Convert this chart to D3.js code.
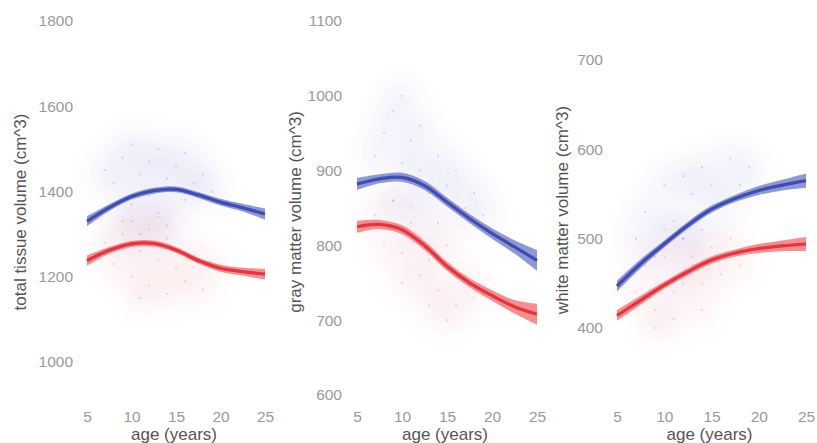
<!DOCTYPE html>
<html>
<head>
<meta charset="utf-8">
<script src="https://cdn.jsdelivr.net/npm/d3@7"></script>
<style>
body { margin:0; background:#fff; }
text { font-family: "Liberation Sans", Arial, sans-serif; }
.tick text { fill:#9a9a9a; font-size:15.5px; }
.title { fill:#555; font-size:17px; }
</style>
</head>
<body>
<svg id="chart"></svg>
<script>
// fitted curves are given at these ages
var ages = [5,7.5,10,12.5,15,17.5,20,22.5,25]
var xTicks = [5,10,15,20,25]

var tissueMale = [1330,1362,1388,1402,1405,1392,1375,1362,1347]
var tissueFemale = [1238,1262,1277,1278,1263,1238,1220,1212,1206]
var tissueSe = [12,8,7,7,7,7,8,9,13]
var tissueTicks = [1000,1200,1400,1600,1800]

var grayMale = [882,889,891,880,858,836,816,798,780]
var grayFemale = [825,828,821,800,772,750,733,718,708]
var graySe = [8,6,6,6,6,6,7,9,14]
var grayTicks = [600,700,800,900,1000,1100]

var whiteMale = [447,472,494,515,533,545,554,560,565]
var whiteFemale = [414,431,448,463,476,484,489,492,494]
var whiteSe = [6,5,4,4,4,4,5,6,8]
var whiteTicks = [400,500,600,700]

// faint subject points [age, volume]
var tissueMalePts = [[7,1450],[8,1420],[9,1480],[10,1370],[10,1510],[11,1440],[12,1390],[12,1470],[13,1350],[13,1500],[14,1430],[15,1460],[16,1380],[16,1490],[17,1420],[18,1440],[19,1400],[9,1330],[14,1320],[11,1300]]
var tissueFemalePts = [[7,1280],[8,1230],[9,1300],[10,1200],[10,1330],[11,1260],[12,1180],[12,1310],[13,1240],[14,1160],[14,1290],[15,1220],[16,1190],[17,1250],[18,1170],[19,1230],[13,1340],[11,1150]]
var grayMalePts = [[7,920],[8,950],[9,980],[10,910],[10,1000],[11,940],[12,900],[12,960],[13,870],[14,920],[15,880],[16,900],[17,850],[18,870],[19,840],[9,860],[11,850],[14,830]]
var grayFemalePts = [[7,840],[8,800],[9,860],[10,790],[11,830],[12,760],[12,810],[13,780],[14,740],[15,800],[16,720],[17,760],[18,730],[10,750],[13,720],[15,700]]
var whiteMalePts = [[7,500],[8,530],[9,480],[10,560],[11,520],[12,570],[12,500],[13,550],[14,580],[14,510],[15,560],[16,540],[17,590],[18,560],[19,580],[10,510],[13,480]]
var whiteFemalePts = [[7,440],[8,470],[9,420],[10,480],[11,440],[12,500],[12,450],[13,470],[14,420],[15,490],[16,460],[17,500],[18,470],[9,400],[11,410],[14,450]]

var colors = {male:{line:"#3d4db5",band:"#7a86cc",pt:"#6a6ad0"}, female:{line:"#e8323c",band:"#f27a7e",pt:"#e06070"}}

var svg = d3.select("#chart").attr("width",817).attr("height",443)

var defs = svg.append("defs")
defs.append("filter").attr("id","haze")
    .attr("x","-50%").attr("y","-50%").attr("width","200%").attr("height","200%")
    .append("feGaussianBlur").attr("stdDeviation",10)

var drawPanel = function(p)
{
    var xScale = d3.scaleLinear().domain([5,25]).range(p.xRange)
    var yScale = d3.scaleLinear().domain(p.yDomain).range(p.yRange)

    var g = svg.append("g")

    // haze + points
    var series = [{pts:p.malePts,c:colors.male},{pts:p.femalePts,c:colors.female}]
    series.forEach(function(s)
    {
        g.append("g").attr("filter","url(#haze)")
            .selectAll("circle").data(s.pts).enter().append("circle")
            .attr("cx",function(d){return xScale(d[0])})
            .attr("cy",function(d){return yScale(d[1])})
            .attr("r",16)
            .attr("fill",s.c.pt)
            .attr("opacity",0.06)
    })
    series.forEach(function(s)
    {
        g.append("g").selectAll("circle").data(s.pts).enter().append("circle")
            .attr("cx",function(d){return xScale(d[0])})
            .attr("cy",function(d){return yScale(d[1])})
            .attr("r",1.1)
            .attr("fill",s.c.pt)
            .attr("opacity",0.25)
    })

    // fits
    var fits = [{v:p.female,c:colors.female},{v:p.male,c:colors.male}]
    fits.forEach(function(f)
    {
        var rows = ages.map(function(a,i){return {a:a,v:f.v[i],se:p.se[i]}})
        var area = d3.area()
            .x(function(d){return xScale(d.a)})
            .y0(function(d){return yScale(d.v-d.se)})
            .y1(function(d){return yScale(d.v+d.se)})
            .curve(d3.curveCatmullRom)
        var line = d3.line()
            .x(function(d){return xScale(d.a)})
            .y(function(d){return yScale(d.v)})
            .curve(d3.curveCatmullRom)
        g.append("path").datum(rows).attr("d",area)
            .attr("fill",f.c.band).attr("opacity",0.85)
        g.append("path").datum(rows).attr("d",line)
            .attr("fill","none").attr("stroke",f.c.line).attr("stroke-width",3.2)
    })

    // axes
    var yAxis = d3.axisLeft(yScale).tickValues(p.yTicks).tickSize(0).tickPadding(0).tickFormat(d3.format("d"))
    var ya = g.append("g")
        .attr("transform","translate("+(p.xRange[0]-p.yPad)+",0)")
        .call(yAxis)
    ya.select(".domain").remove()

    var xAxis = d3.axisBottom(xScale).tickValues(xTicks).tickSize(0).tickPadding(0)
    var xa = g.append("g")
        .attr("transform","translate(0,411)")
        .call(xAxis)
    xa.select(".domain").remove()

    g.append("text").classed("title",true)
        .attr("text-anchor","middle")
        .attr("x",(p.xRange[0]+p.xRange[1])/2 - 2)
        .attr("y",440)
        .text("age (years)")

    g.append("text").classed("title",true)
        .attr("text-anchor","middle")
        .attr("transform","translate("+p.titleX+","+p.titleY+") rotate(-90)")
        .text(p.title)
}

drawPanel({xRange:[87,265],yDomain:[1000,1800],yRange:[362,21],yTicks:tissueTicks,yPad:14,
    male:tissueMale,female:tissueFemale,se:tissueSe,malePts:tissueMalePts,femalePts:tissueFemalePts,
    title:"total tissue volume (cm^3)",titleX:26,titleY:212})
drawPanel({xRange:[357,537],yDomain:[600,1100],yRange:[395,21],yTicks:grayTicks,yPad:15,
    male:grayMale,female:grayFemale,se:graySe,malePts:grayMalePts,femalePts:grayFemalePts,
    title:"gray matter volume (cm^3)",titleX:301,titleY:212})
drawPanel({xRange:[617,806],yDomain:[400,700],yRange:[328,60],yTicks:whiteTicks,yPad:14,
    male:whiteMale,female:whiteFemale,se:whiteSe,malePts:whiteMalePts,femalePts:whiteFemalePts,
    title:"white matter volume (cm^3)",titleX:568,titleY:210})
</script>
</body>
</html>
